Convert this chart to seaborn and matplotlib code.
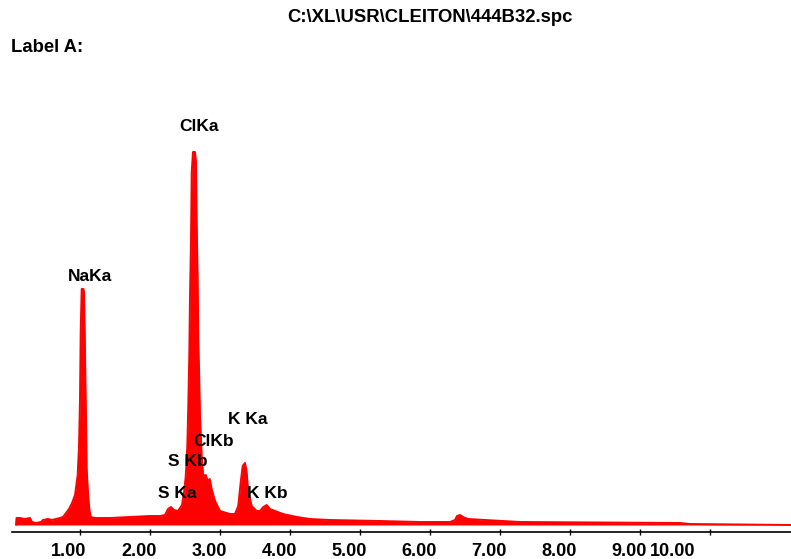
import matplotlib
matplotlib.use("Agg")
import matplotlib.pyplot as plt
import seaborn as sns
import pandas as pd
import numpy as np

# ---- data (energy in keV, counts in arbitrary units) ----
energy_kev = [0.086, 0.093, 0.143, 0.214, 0.286, 0.314, 0.371, 0.443, 0.471, 0.543,
              0.600, 0.657, 0.714, 0.757, 0.800, 0.843, 0.886, 0.929, 0.967, 0.986,
              1.000, 1.010, 1.024, 1.031, 1.050, 1.057, 1.067, 1.076, 1.086, 1.096,
              1.114, 1.133, 1.153, 1.214, 1.429, 1.714, 2.000, 2.143, 2.214, 2.257,
              2.300, 2.343, 2.400, 2.457, 2.486, 2.507, 2.521, 2.533, 2.547, 2.561,
              2.571, 2.586, 2.596, 2.614, 2.633, 2.643, 2.657, 2.667, 2.681, 2.690,
              2.704, 2.714, 2.739, 2.761, 2.796, 2.824, 2.853, 2.881, 2.929, 3.000,
              3.143, 3.214, 3.261, 3.296, 3.324, 3.357, 3.381, 3.404, 3.453, 3.524,
              3.571, 3.619, 3.667, 3.714, 3.900, 4.100, 4.286, 4.571, 5.286, 5.857,
              6.143, 6.286, 6.357, 6.386, 6.429, 6.471, 6.543, 7.286, 9.571, 9.714,
              11.157]
counts = [0, 7, 7, 6, 7, 3, 2, 3, 5, 6,
          5, 6, 7, 8, 12, 16, 22, 30, 50, 79,
          126, 194, 236, 236, 236, 233, 196, 153, 106, 56,
          33, 16, 8, 7, 7, 8, 9, 9, 10, 16,
          18, 15, 14, 20, 33, 46, 60, 79, 119, 169,
          226, 286, 353, 373, 373, 373, 363, 303, 246, 186,
          146, 109, 69, 49, 50, 44, 46, 36, 24, 14,
          11, 11, 19, 43, 59, 62, 53, 33, 19, 14,
          14, 18, 20, 16, 11, 8, 6, 5, 4, 3,
          3, 3, 5, 9, 10, 8, 6, 3, 2, 1,
          0]

tick_values = [1, 2, 3, 4, 5, 6, 7, 8, 9, 10]
tick_labels = ["1.00", "2.00", "3.00", "4.00", "5.00", "6.00", "7.00", "8.00", "9.00", "10.00"]

peak_names = ["NaKa", "ClKa", "K Ka", "ClKb", "S Kb", "S Ka", "K Kb"]
peak_label_x = [1.15, 2.693, 3.40, 2.907, 2.536, 2.393, 3.671]
peak_label_y = [249, 399, 105, 83, 63, 31, 32]

title_text = "C:\\XL\\USR\\CLEITON\\444B32.spc"
label_text = "Label A:"

# ---- figure ----
sns.set_style("white")
plt.rcParams["font.family"] = ["Liberation Sans", "DejaVu Sans"]

W, H = 791, 559
fig = plt.figure(figsize=(W / 100, H / 100), dpi=100)
ax = fig.add_axes([12 / W, (H - 532) / H, 1 - 12 / W, (532 - 100) / H])

df = pd.DataFrame({"energy": energy_kev, "counts": counts})
ax.fill_between(df["energy"], 0, df["counts"], color="#ff0000", linewidth=0)
sns.lineplot(data=df, x="energy", y="counts", ax=ax, color="#ff0000",
             linewidth=1.4, estimator=None, sort=False)

ax.set_xlim(0.0286, 11.157)
ax.set_ylim(-7, 425)
ax.set_xlabel("")
ax.set_ylabel("")
for s in ["left", "top", "right"]:
    ax.spines[s].set_visible(False)
ax.spines["bottom"].set_color("black")
ax.spines["bottom"].set_linewidth(1.2)
ax.set_yticks([])
ax.set_xticks(tick_values)
ax.set_xticklabels([])
ax.tick_params(axis="x", direction="inout", length=4, width=1.0, color="black", bottom=True)

# tick labels (sit slightly left of their ticks, as in the reference)
for i, (tv, tl) in enumerate(zip(tick_values, tick_labels)):
    dx = -11 if i < len(tick_values) - 1 else -37
    ax.annotate(tl, xy=(tv, 0), xycoords=("data", "axes fraction"),
                xytext=(dx * 0.72, -19 * 0.72), textcoords="offset points",
                ha="center", va="center", fontsize=13, fontweight="bold",
                color="black")

for name, lx, ly in zip(peak_names, peak_label_x, peak_label_y):
    ax.text(lx, ly, name, ha="center", va="center", fontsize=12.5,
            fontweight="bold", color="black")

fig.text(430 / W, 1 - 18 / H, title_text, ha="center", va="center",
         fontsize=13.3, fontweight="bold", color="black")
fig.text(11 / W, 1 - 47 / H, label_text, ha="left", va="center",
         fontsize=13.3, fontweight="bold", color="black")

fig.savefig("out.png", dpi=100)
